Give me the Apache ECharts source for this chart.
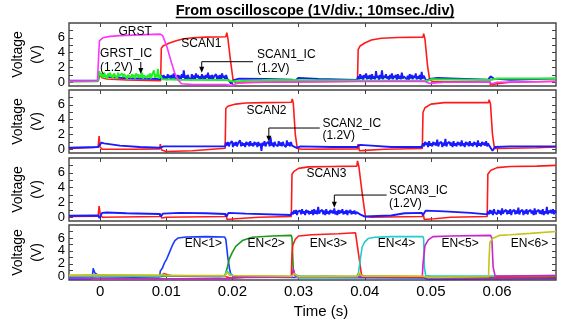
<!DOCTYPE html>
<html><head><meta charset="utf-8">
<script src="https://cdn.jsdelivr.net/npm/echarts@6/dist/echarts.min.js"></script>
<style>html,body{margin:0;padding:0;background:#fff}#c{width:563px;height:320px}</style>
</head><body><div id="c"></div>
<script>
const FONT = '"Liberation Sans", Arial, sans-serif';
const titleText = 'From oscilloscope (1V/div.; 10msec./div)';
const xTicks = [0, 0.01, 0.02, 0.03, 0.04, 0.05, 0.06];
const yTicks = [0, 1, 2, 3, 4, 5, 6, 7];
const yLabels = [0, 2, 4, 6];

// noise samples (V), spread uniformly over [t0,t1] ms
const g1Noise = [1.4,0.8,1.2,0.6,1.3,0.9,1.1,0.5,1.2,0.8,1.3,0.7,1.0,0.6,1.2,0.9,1.1,0.5,1.3,0.8,1.0,0.6,1.2,0.7,1.1,0.9,1.3,0.5,1.0,0.8,1.2,0.6,1.1,0.7,1.0,0.5,1.2,0.8,1.1,0.6,1.0,0.7,1.3,0.5,0.9,0.8,1.1,0.6,1.0,0.7,1.2,0.5,1.0,0.8,1.6,0.6,1.1,0.7,1.8,0.5,1.0,0.9];
const b1aNoise = [0.9,0.4,1.0,0.5,0.8,0.3,1.1,0.6,0.9,0.4,1.0,0.5,1.2,0.6,0.8,0.4,1.0,0.5,0.9,0.3,1.1,0.6,1.6,0.5,0.9,0.4,1.0,0.6,0.8,0.3,1.1,0.5,0.9,0.4,1.2,0.6,1.0,0.5,0.8,0.4,1.1,0.5,0.9,0.3,1.0,0.6,1.3,0.4,0.9,0.5,1.0,0.4,0.8,0.6,1.1,0.3,0.9,0.5,1.0,0.4,1.2,0.6,0.9,0.3,1.0,0.5];
const b1bNoise = [0.8,0.4,1.1,0.5,0.9,0.3,1.0,0.6,1.2,0.4,0.9,0.5,1.0,0.3,1.1,0.5,0.8,0.4,1.5,0.6,0.9,0.3,1.0,0.5,1.6,0.4,0.9,0.6,1.1,0.5,0.8,0.3,1.0,0.5,1.2,0.4,0.9,0.6,1.0,0.3,1.1,0.5,0.9,0.4,1.3,0.5,0.8,0.6,1.0,0.4,0.9,0.3,1.1,0.5,1.0,0.4,0.9,0.6,1.2,0.4,0.8,0.5,1.0,0.3,1.4,0.5,0.9];
const b2aNoise = [0.9,0.5,1.0,0.4,0.8,0.6,1.1,0.3,0.9,0.5,1.0,0.4,0.8,0.6,1.2,0.4,0.9,0.5,0.8,0.3,1.0,0.6,0.9,0.4,1.1,0.5,0.8,0.4,1.0,0.6,0.9,0.3,1.0,0.5,0.8,-0.2,0.9,0.5,1.1,0.4,0.8,0.6,1.0,0.4,1.6,0.5,0.9,0.3,1.0,0.6,0.8,0.4,1.1,0.5,0.9,0.4,1.0,0.6,0.8,0.3,1.2,0.5,0.9,0.4,1.0,0.5];
const b2bNoise = [0.8,0.4,1.0,0.6,0.9,0.3,1.1,0.5,0.8,0.4,1.0,0.6,0.9,0.5,1.3,0.4,0.8,0.6,1.0,0.3,0.9,0.5,1.4,0.4,0.8,0.6,1.0,0.5,0.9,0.3,1.1,0.5,0.8,0.4,1.0,0.6,0.9,0.4,1.2,0.5,0.8,0.3,1.0,0.6,0.9,0.4,1.1,0.5,0.8,0.4,1.0,0.6,0.9,0.3,1.2,0.5,0.8,0.4,1.0,0.6,0.9,0.5,1.1,0.4,0.8,0.5];
const b3aNoise = [0.7,0.4,0.9,0.5,1.0,0.3,0.8,0.6,0.9,0.4,1.1,0.5,0.8,0.3,1.0,0.6,0.9,0.4,0.8,0.5,1.0,0.3,1.1,0.5,0.9,0.4,1.4,0.5,0.8,0.6,1.0,0.4,0.9,0.3,1.1,0.5,0.8,0.4,1.0,0.6,0.9,0.5,1.2,0.4,0.8,0.3,1.0,0.5,0.9,0.6,1.1,0.4,0.8,0.5,1.0,0.3,0.9,0.6,1.0,0.4,0.8,0.5,0.9,0.4,0.7,0.5];
const b3bNoise = [0.8,0.4,1.0,0.5,0.9,0.3,1.1,0.6,0.8,0.4,1.0,0.5,0.9,0.3,1.2,0.5,0.8,0.6,1.0,0.4,0.9,0.5,1.1,0.3,0.8,0.6,1.0,0.4,0.9,0.5,1.3,0.4,0.8,0.6,1.0,0.3,0.9,0.5,1.1,0.4,0.8,0.6,1.0,0.5,0.9,0.3,1.2,0.4,0.8,0.6,1.0,0.5,0.9,0.4,1.1,0.3,0.8,0.5,1.4,0.4,0.9,0.6,1.0,0.5,1.1,0.4,0.9,0.6];

// panel 1 (time in ms, volts)
const grstPts = [[-4.7,0.15],[-0.4,0.2],[-0.25,3.0],[-0.1,5.6],[0.4,6.0],[1.5,6.2],[3,6.3],[6,6.4],[9.1,6.5],[9.3,6.75],[9.45,6.3],[10.1,4.8],[10.8,2.6],[11.3,1.2],[11.8,0.3],[12.3,-0.2],[14,-0.3],[19,-0.3],[19.9,-0.45],[20.5,-0.2],[22,0.0],[29,0.05],[39.5,0.1],[49,0.15],[49.8,-0.15],[52,0.0],[58.8,0.05],[59.2,-0.2],[60,0.0],[68.9,0.1]];
const scan1Pts = [[-4.7,0.1],[-0.3,0.15],[-0.15,1.1],[0.3,0.6],[1,0.45],[4,0.3],[9.15,0.2],[9.25,4.6],[9.5,4.9],[10.5,5.3],[11.5,5.6],[12.5,5.85],[14,6.0],[16,6.1],[19.0,6.15],[19.15,6.7],[19.3,6.0],[19.7,3.0],[20.1,0.3],[20.5,-0.1],[25,0.0],[38.9,0.15],[39.0,4.4],[39.3,4.9],[40,5.3],[41,5.7],[42.5,5.95],[45,6.05],[48.8,6.1],[48.9,6.55],[49.1,5.8],[49.5,2.1],[49.8,0.4],[50.3,0.05],[58.6,0.05],[58.8,0.6],[59.0,-0.35],[60,-0.2],[62,0.0],[68.9,0.15]];
const scan1IcPts = [[-4.7,0.2],[-0.3,0.25],[-0.1,1.1],[0.4,0.9],[1.5,0.7],[4,0.55],[9.1,0.45],{t0:9.3,t1:19.2,v:b1aNoise},[19.5,0.2],[19.8,-0.2],[20.2,0.3],[21,0.5],[25,0.45],[29,0.35],[29.4,0.15],[30,0.6],[33,0.45],[38.8,0.3],{t0:39.0,t1:48.9,v:b1bNoise},[49.3,0.2],[49.8,0.45],[51,0.6],[54,0.5],[58.7,0.35],[59.0,0.8],[59.5,0.5],[62,0.35],[66,0.45],[68.9,0.5]];
const grstIcPts = [[-4.7,0.1],[-0.3,0.15],[-0.15,1.5],{t0:0.0,t1:9.2,v:g1Noise},[9.4,0.4],[12,0.35],[19.2,0.3],[20,0.1],[25,0.3],[39,0.25],[49.5,0.2],[50,0.4],[55,0.35],[59,0.3],[60,0.5],[68.9,0.5]];
// panel 2
const scan2Pts = [[-4.7,0.1],[-1,0.25],[-0.3,0.3],[-0.15,1.8],[0.0,0.3],[0.3,0.0],[5,0.0],[9.0,0.05],[9.1,0.7],[9.3,-0.1],[10,-0.3],[14,-0.2],[18.9,0.15],[19.0,5.5],[19.3,5.8],[20.5,6.1],[22,6.25],[25,6.3],[28.9,6.35],[29.05,6.8],[29.2,6.2],[29.5,2.0],[29.8,0.1],[30.5,0.0],[38.9,0.05],[39.0,0.7],[39.2,-0.2],[40,-0.15],[43,0.0],[48.7,0.1],[48.8,5.0],[49.1,5.6],[50,6.1],[52,6.3],[58.7,6.3],[58.8,6.7],[59.0,6.1],[59.3,2.0],[59.6,0.1],[60,0.1],[66,0.2],[68.9,0.3]];
const scan2IcPts = [[-4.7,0.2],[-0.3,0.3],[-0.1,0.1],[0.2,0.9],[0.6,0.8],[3,0.5],[6,0.3],[9.0,0.2],[9.2,0.1],[9.6,0.4],[14,0.4],[18.9,0.4],{t0:19.0,t1:29.0,v:b2aNoise},[29.3,0.4],[29.7,0.2],[30.3,0.4],[35,0.3],[38.8,0.3],[39.0,0.1],[39.3,0.6],[41,0.5],[44,0.3],[48.6,0.3],{t0:48.8,t1:58.8,v:b2bNoise},[59.0,0.5],[59.3,-0.2],[59.7,0.3],[62,0.4],[68.9,0.4]];
// panel 3
const scan3Pts = [[-4.7,0.1],[-0.3,0.15],[-0.15,1.5],[0.05,0.2],[0.4,0.0],[9.0,0.1],[9.1,0.5],[9.3,-0.1],[10,0.0],[18.9,0.1],[19.0,0.5],[19.2,-0.3],[20.5,-0.2],[24,0.0],[28.9,0.1],[29.0,5.8],[29.3,6.2],[30,6.6],[31.5,6.8],[35,6.85],[38.8,6.9],[38.9,7.6],[39.1,6.9],[39.6,3.3],[40.1,0.1],[41,0.0],[48.7,0.1],[48.8,0.6],[49,-0.3],[50.5,-0.2],[53,0.0],[58.5,0.1],[58.6,5.8],[59,6.3],[60,6.7],[62,6.85],[66,6.9],[68.9,7.0]];
const scan3IcPts = [[-4.7,0.2],[-0.3,0.25],[-0.1,-0.1],[0.3,0.6],[1,0.65],[4,0.55],[9.0,0.45],[9.2,0.1],[9.5,0.5],[12,0.6],[16,0.55],[18.9,0.45],[19.1,0.1],[19.4,0.6],[22,0.5],[28.8,0.3],{t0:29.0,t1:38.9,v:b3aNoise},[39.3,0.4],[40,0.1],[41,0.15],[44,0.25],[46,0.55],[48.6,0.6],[48.8,0.3],[49.2,0.9],[52,0.8],[56,0.6],[58.5,0.4],{t0:58.6,t1:68.9,v:b3bNoise}];
// panel 4
const en1Pts = [[-4.7,-0.35],[-1.2,-0.3],[-1.05,1.3],[-0.8,0.6],[-0.5,0.3],[0,0.05],[5,-0.05],[9.0,0.0],[9.1,0.9],[9.4,1.3],[9.7,2.1],[10.0,2.6],[10.5,3.8],[10.9,4.8],[11.3,5.6],[11.8,6.0],[13,6.15],[16,6.2],[18.8,6.15],[19.0,5.8],[19.3,3.0],[19.6,1.0],[19.8,0.3],[20.5,0.0],[29,-0.1],[39,-0.15],[49,-0.2],[49.5,-0.4],[59,-0.35],[68.9,-0.3]];
const en2Pts = [[-4.7,-0.05],[-1,0.0],[0,0.1],[9.2,0.05],[9.5,0.3],[10,0.1],[18.8,0.1],[18.95,0.5],[19.2,1.3],[19.5,2.7],[20.0,3.8],[20.5,4.7],[21.5,5.6],[23,6.1],[26,6.3],[28.9,6.4],[29.0,6.0],[29.2,1.0],[29.4,0.3],[30,0.1],[38.8,0.05],[39.0,0.5],[39.5,0.1],[49,0.0],[49.5,-0.1],[59,-0.05],[68.9,0.0]];
const en3Pts = [[-4.7,0.0],[0,0.05],[9.3,0.05],[9.6,0.5],[10.2,0.3],[11,0.1],[18.9,0.05],[19.2,0.1],[19.7,-0.2],[21,0.0],[28.9,0.0],[29.0,3.5],[29.1,4.8],[29.5,5.8],[30,6.3],[32,6.5],[36,6.65],[38.6,6.8],[38.7,7.1],[38.9,6.6],[39.2,2.5],[39.5,0.3],[40,0.0],[49,-0.05],[49.5,-0.2],[59,-0.2],[68.9,-0.15]];
const en4Pts = [[-4.7,0.1],[0,0.1],[9,0.1],[9.5,0.2],[18.9,0.1],[19.1,0.9],[19.5,0.6],[20,0.2],[29,0.05],[29.2,0.6],[29.6,0.0],[30,-0.2],[38.9,-0.1],[39.0,0.3],[39.3,2.5],[39.6,4.6],[40.0,5.4],[40.5,5.9],[41.5,6.1],[44,6.2],[48.8,6.2],[48.9,5.8],[49.0,1.5],[49.2,0.2],[50,0.1],[59,0.1],[68.9,0.2]];
const en5Pts = [[-4.7,-0.2],[0,-0.25],[5,-0.3],[12,-0.3],[18,-0.25],[19,-0.3],[22,-0.1],[29,-0.05],[29.2,1.2],[29.5,0.1],[30,0.0],[39,0.0],[48.7,0.05],[48.8,2.0],[49.1,4.8],[49.6,5.7],[50.3,6.2],[53,6.3],[59.0,6.4],[59.2,6.0],[59.4,1.5],[59.7,0.1],[61,0.1],[68.9,0.2]];
const en6Pts = [[-4.7,0.25],[0,0.3],[9,0.25],[9.5,0.4],[10,0.2],[18.9,0.2],[19.2,0.7],[19.6,0.2],[29,0.1],[29.3,0.5],[30,0.0],[38.9,0.1],[39.1,0.6],[39.6,0.1],[48.8,0.1],[49,0.4],[49.5,-0.1],[58.7,0.0],[58.8,3.0],[58.9,5.3],[59.3,5.9],[60.4,6.4],[62,6.5],[65,6.7],[68.9,7.0]];

// [panel, points, colour, line width]
const traces = [
  [0, scan1Pts, '#ff1a1a', 1.6], [0, scan1IcPts, '#1a1aff', 1.9], [0, grstIcPts, '#22f022', 2.0], [0, grstPts, '#ff33ff', 1.6],
  [1, scan2Pts, '#ff1a1a', 1.6], [1, scan2IcPts, '#1a1aff', 1.9],
  [2, scan3Pts, '#ff1a1a', 1.6], [2, scan3IcPts, '#1a1aff', 1.9],
  [3, en1Pts, '#1a3aff', 1.6], [3, en2Pts, '#1a9a1a', 1.6], [3, en3Pts, '#ff1a1a', 1.6], [3, en4Pts, '#22cccc', 1.6], [3, en5Pts, '#cc22cc', 1.6], [3, en6Pts, '#c4c41a', 1.6]
];

// annotations [panel, ms, V, text, align]
const annText = [
  [0, 5.3, 6.8, 'GRST', 'center'], [0, 15.3, 5.15, 'SCAN1', 'center'],
  [0, 0.0, 3.8, 'GRST_IC', 'left'], [0, 0.0, 1.93, '(1.2V)', 'left'],
  [0, 23.7, 3.68, 'SCAN1_IC', 'left'], [0, 23.7, 1.8, '(1.2V)', 'left'],
  [1, 25.15, 5.2, 'SCAN2', 'center'], [1, 33.6, 3.5, 'SCAN2_IC', 'left'], [1, 33.6, 1.84, '(1.2V)', 'left'],
  [2, 34.2, 5.84, 'SCAN3', 'center'], [2, 43.66, 3.6, 'SCAN3_IC', 'left'], [2, 43.66, 1.89, '(1.2V)', 'left'],
  [3, 15.6, 5.16, 'EN<1>', 'center'], [3, 25.1, 5.16, 'EN<2>', 'center'], [3, 34.5, 5.16, 'EN<3>', 'center'],
  [3, 44.8, 5.16, 'EN<4>', 'center'], [3, 54.4, 5.16, 'EN<5>', 'center'], [3, 64.9, 5.16, 'EN<6>', 'center']
];
const annArrows = [[0, 6.15, 2.74, 1.12], [0, 15.36, 2.78, 1.3], [1, 25.5, 2.87, 1.03], [2, 35.4, 3.0, 1.3]];
const annLeaders = [[0, 15.36, 23.1, 2.78], [1, 25.5, 33.2, 2.87], [2, 35.4, 43.3, 3.0]];

function build(pts) {
  const out = [];
  pts.forEach(p => {
    if (Array.isArray(p)) out.push([p[0] / 1000, p[1]]);
    else { const n = p.v.length; p.v.forEach((v, i) => out.push([(p.t0 + (p.t1 - p.t0) * i / (n - 1)) / 1000, v])); }
  });
  return out;
}

const gridTops = [23, 90, 158, 225];
const gridHeights = [63, 63, 63, 65];
const frame = '#444';
const grids = [], xAxes = [], yAxes = [];
for (let g = 0; g < 4; g++) {
  grids.push({ left: 69, right: 7, top: gridTops[g], height: gridHeights[g], show: true, borderColor: frame, borderWidth: 1.4, backgroundColor: 'transparent' });
  const tick = { inside: true, length: 4, customValues: xTicks, lineStyle: { color: frame, width: 1 } };
  xAxes.push({ type: 'value', gridIndex: g, position: 'bottom', min: -0.0047, max: 0.0689,
    axisLine: { show: false, onZero: false }, axisTick: tick, splitLine: { show: false },
    axisLabel: { show: g === 3, customValues: xTicks, margin: 4, fontSize: 15, color: '#000', fontFamily: FONT, formatter: v => String(+v.toFixed(2)) },
    name: g === 3 ? 'Time (s)' : '', nameLocation: 'middle', nameGap: 24,
    nameTextStyle: { fontSize: 15, color: '#000', fontFamily: FONT, padding: [0, 0, 0, 17] } });
  xAxes.push({ type: 'value', gridIndex: g, position: 'top', min: -0.0047, max: 0.0689,
    axisLine: { show: false, onZero: false }, axisTick: tick, axisLabel: { show: false }, splitLine: { show: false } });
  const ytick = { inside: true, length: 4, customValues: yTicks, lineStyle: { color: frame, width: 1 } };
  yAxes.push({ type: 'value', gridIndex: g, position: 'left', min: -0.5, max: 8,
    axisLine: { show: false, onZero: false }, axisTick: ytick, splitLine: { show: false },
    axisLabel: { customValues: yLabels, margin: 4, fontSize: 13, color: '#000', fontFamily: FONT },
    name: 'Voltage\n(V)', nameLocation: 'middle', nameRotate: 90, nameGap: 21,
    nameTextStyle: { fontSize: 14, lineHeight: 19, color: '#000', fontFamily: FONT } });
  yAxes.push({ type: 'value', gridIndex: g, position: 'right', min: -0.5, max: 8,
    axisLine: { show: false, onZero: false }, axisTick: ytick, axisLabel: { show: false }, splitLine: { show: false } });
}

const series = traces.map(([g, pts, color, w]) => ({
  type: 'line', xAxisIndex: 2 * g, yAxisIndex: 2 * g, data: build(pts),
  showSymbol: false, symbol: 'none', silent: true,
  lineStyle: { color, width: w }, itemStyle: { color }
}));

const chart = echarts.init(document.getElementById('c'), null, { renderer: 'canvas' });
const ctx = document.createElement('canvas').getContext('2d');
ctx.font = 'bold 14.5px "Liberation Sans"';
const tw = ctx.measureText(titleText).width;
const tLeft = 315 - tw / 2;
chart.setOption({
  animation: false,
  title: { text: titleText, left: tLeft, top: 3, padding: 0, textStyle: { fontSize: 14.5, fontWeight: 'bold', color: '#000', fontFamily: FONT } },
  grid: grids, xAxis: xAxes, yAxis: yAxes, series
});

const toPx = (g, ms, v) => chart.convertToPixel({ xAxisIndex: 2 * g, yAxisIndex: 2 * g }, [ms / 1000, v]);
const graphics = [{ type: 'line', shape: { x1: tLeft, y1: 17.5, x2: tLeft + tw, y2: 17.5 }, style: { stroke: '#000', lineWidth: 1.3 } }];
annText.forEach(([g, ms, v, text, align]) => {
  const [x, y] = toPx(g, ms, v);
  graphics.push({ type: 'text', x, y, z: 100, style: { text, fill: '#000', font: '12px ' + FONT, textAlign: align, textVerticalAlign: 'middle' } });
});
annLeaders.forEach(([g, a, b, v]) => {
  const [x1, y] = toPx(g, a, v); const [x2] = toPx(g, b, v);
  graphics.push({ type: 'line', z: 100, shape: { x1, y1: y, x2, y2: y }, style: { stroke: '#000', lineWidth: 1 } });
});
annArrows.forEach(([g, ms, v1, v2]) => {
  const [x, y1] = toPx(g, ms, v1); const [, y2] = toPx(g, ms, v2);
  graphics.push({ type: 'line', z: 100, shape: { x1: x, y1, x2: x, y2: y2 - 4 }, style: { stroke: '#000', lineWidth: 1 } });
  graphics.push({ type: 'polygon', z: 100, shape: { points: [[x - 2.5, y2 - 6], [x + 2.5, y2 - 6], [x, y2]] }, style: { fill: '#000' } });
});
chart.setOption({ graphic: graphics });
</script></body></html>
